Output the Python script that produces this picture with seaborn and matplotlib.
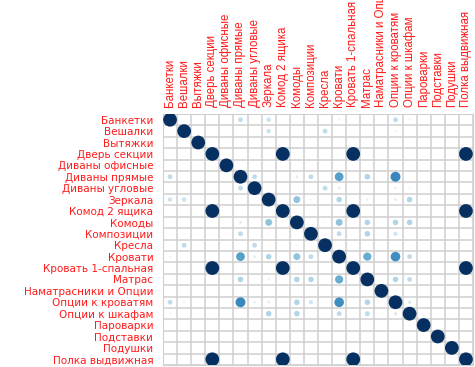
import numpy as np
import pandas as pd
import matplotlib
matplotlib.use("Agg")
import matplotlib.pyplot as plt
import seaborn as sns

# Categories (rows == columns)
labels = ["Банкетки", "Вешалки", "Вытяжки", "Дверь секции", "Диваны офисные",
          "Диваны прямые", "Диваны угловые", "Зеркала", "Комод 2 ящика", "Комоды",
          "Композиции", "Кресла", "Кровати", "Кровать 1-спальная", "Матрас",
          "Наматрасники и Опции", "Опции к кроватям", "Опции к шкафам", "Пароварки",
          "Подставки", "Подушки", "Полка выдвижная"]

# Off-diagonal correlations (upper triangle)
pair_a = [0, 0, 0, 0, 0, 1, 1, 1, 1,
          3, 3, 3, 8, 8, 13,
          5, 5, 5, 5, 5, 5, 5,
          6, 6, 6, 6,
          7, 7, 7, 7, 7, 7,
          9, 9, 9, 9, 9,
          10, 10, 10,
          12, 12, 12, 14, 14, 16]
pair_b = [5, 7, 12, 16, 17, 7, 10, 11, 16,
          8, 13, 21, 13, 21, 21,
          6, 9, 10, 12, 14, 16, 0,
          11, 12, 16, 17,
          9, 10, 12, 14, 16, 17,
          11, 12, 14, 16, 17,
          12, 14, 16,
          14, 16, 17, 16, 17, 17]
pair_r = [0.25, 0.22, 0.08, 0.25, -0.08, 0.22, -0.05, 0.25, 0.08,
          1.0, 1.0, 1.0, 1.0, 1.0, 1.0,
          0.25, 0.12, 0.25, 0.55, 0.3, 0.65, 0.25,
          0.25, 0.12, 0.1, -0.06,
          0.4, -0.06, 0.3, 0.1, 0.12, 0.3,
          -0.06, 0.4, 0.3, 0.3, 0.3,
          0.25, 0.3, 0.2,
          0.5, 0.62, 0.25, 0.3, 0.25, 0.15]

n = len(labels)
mat = np.eye(n)
for a, b, r in zip(pair_a, pair_b, pair_r):
    mat[a, b] = r
    mat[b, a] = r

rows, cols = np.nonzero(mat)
df = pd.DataFrame({"row": rows, "col": cols, "r": mat[rows, cols]})
df["mag"] = np.abs(df["r"]) ** 1.5

sns.set_style("white")
plt.rcParams["font.family"] = ["DejaVu Sans"]

fig = plt.figure(figsize=(4.75, 3.67), dpi=100)
ax = fig.add_axes([163 / 475, 1 - 365 / 367, 310 / 475, (365 - 114) / 367])

sns.scatterplot(data=df, x="col", y="row", hue="r", hue_norm=(-1, 1), palette="RdBu",
                size="mag", size_norm=(0, 1), sizes=(0, 98), legend=False,
                edgecolor="none", ax=ax, zorder=3)

ax.set_xlim(-0.5, n - 0.5)
ax.set_ylim(n - 0.5, -0.5)
ax.set_xticks(np.arange(n))
ax.set_yticks(np.arange(n))
ax.set_xticks(np.arange(-0.5, n, 1), minor=True)
ax.set_yticks(np.arange(-0.5, n, 1), minor=True)
ax.grid(which="minor", color="#cfcfcf", linewidth=1.1)
ax.grid(which="major", visible=False)
ax.tick_params(which="both", length=0)
ax.xaxis.tick_top()
ax.set_xticklabels(labels, rotation=90, color="#ff1a1a", fontsize=8.3, family="Liberation Sans")
ax.set_yticklabels(labels, color="#ff1a1a", fontsize=7.5)
ax.tick_params(axis="x", pad=5)
ax.tick_params(axis="y", pad=7)
ax.set_xlabel("")
ax.set_ylabel("")
for s in ax.spines.values():
    s.set_color("#cfcfcf")

fig.savefig("out.png", dpi=100)
